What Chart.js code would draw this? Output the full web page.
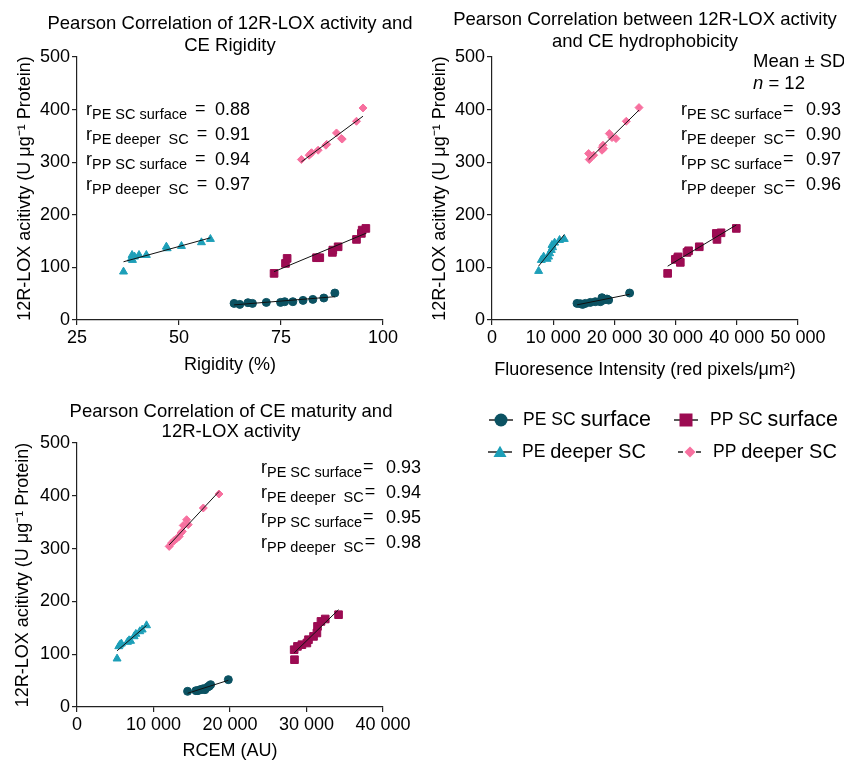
<!DOCTYPE html>
<html>
<head>
<meta charset="utf-8">
<script src="https://cdn.jsdelivr.net/npm/chart.js@4.4.0/dist/chart.umd.min.js"></script>
<style>
  body { margin: 0; background: #fff; width: 844px; height: 762px; overflow: hidden; position: relative; }
  canvas { position: absolute; }
</style>
</head>
<body>
<canvas id="c1" width="420" height="385" style="left:0;top:0"></canvas>
<canvas id="c2" width="424" height="385" style="left:420px;top:0"></canvas>
<canvas id="c3" width="430" height="377" style="left:0;top:385px"></canvas>
<canvas id="leg" width="364" height="80" style="left:480px;top:395px"></canvas>
<script>
// ── Data ───────────────────────────────────────────

const seriesNames = ['PE SC surface', 'PE deeper SC', 'PP SC surface', 'PP deeper SC'];
const rLabels = ['PE SC surface', 'PE deeper  SC', 'PP SC surface', 'PP deeper  SC'];

// panel 1: rigidity (%)
const rigPeSurfX = [63.5, 64.9, 66.9, 68.0, 71.4, 74.9, 75.9, 77.9, 80.4, 82.8, 85.5, 88.2];
const rigPeSurfY = [31.6, 29.7, 32.9, 31.6, 33.5, 33.5, 34.8, 34.8, 37.3, 39.2, 41.8, 51.3];
const rigPeDeepX = [36.4, 38.3, 38.5, 38.6, 39.1, 40.2, 42.0, 46.9, 47.1, 50.6, 55.5, 57.7];
const rigPeDeepY = [91.8, 116.5, 123.4, 113.9, 120.3, 123.4, 123.4, 139.2, 136.1, 140.5, 147.5, 153.8];
const rigPpSurfX = [73.3, 76.1, 76.5, 83.7, 84.5, 87.6, 87.7, 89.0, 93.5, 94.7, 94.9, 95.8];
const rigPpSurfY = [88.6, 107.6, 117.1, 118.4, 118.4, 128.5, 132.9, 139.2, 153.2, 164.6, 170.9, 174.1];
const rigPpDeepX = [80.0, 81.9, 82.3, 82.5, 84.1, 86.0, 86.2, 88.6, 89.8, 90.0, 93.5, 95.1];
const rigPpDeepY = [305.1, 313.3, 316.5, 318.0, 322.8, 332.3, 334.0, 355.6, 345.0, 344.0, 377.8, 403.1];
const rigR = ['0.88', '0.91', '0.94', '0.97'];

// panel 2: fluorescence intensity
const hydPeSurfX = [13890, 14430, 14810, 15250, 16060, 16880, 17700, 17970, 18240, 18790, 19060, 22490];
const hydPeSurfY = [31.6, 31.0, 29.7, 31.6, 33.5, 34.8, 34.8, 42.4, 37.9, 39.9, 37.9, 51.3];
const hydPeDeepX = [7620, 8060, 8440, 9000, 9250, 9420, 9690, 9800, 9900, 10230, 11040, 11810];
const hydPeDeepY = [93.0, 113.9, 120.2, 116.0, 120.2, 126.6, 132.9, 142.4, 138.0, 146.8, 151.9, 153.8];
const hydPpSurfX = [28700, 29950, 30330, 30400, 30770, 31860, 32120, 33870, 36650, 36760, 37420, 39920];
const hydPpSurfY = [88.6, 115.2, 117.1, 120.0, 109.5, 128.5, 131.6, 139.2, 164.6, 153.2, 165.8, 174.1];
const hydPpDeepX = [15790, 15900, 16610, 17970, 18000, 18140, 18240, 19170, 19610, 20260, 21940, 24020];
const hydPpDeepY = [316.5, 305.1, 313.3, 322.8, 328.0, 332.3, 325.9, 354.4, 346.8, 344.9, 377.8, 403.8];
const hydR = ['0.93', '0.90', '0.97', '0.96'];

// panel 3: RCEM (AU)
const rcemPeSurfX = [14455, 15546, 15800, 16071, 16300, 16507, 16725, 17031, 17249, 17300, 17468, 19783];
const rcemPeSurfY = [29.7, 30.9, 31.0, 32.8, 33.0, 34.7, 32.8, 37.2, 39.1, 40.0, 42.3, 51.8];
const rcemPeDeepX = [5240, 5460, 5630, 5800, 6600, 6810, 7000, 7470, 7690, 8210, 8520, 9090];
const rcemPeDeepY = [91.5, 114.8, 118.0, 120.0, 123.1, 126.1, 125.0, 133.7, 138.3, 143.2, 146.4, 154.5];
const rcemPpSurfX = [28430, 28390, 28820, 29400, 30050, 30260, 30920, 31360, 31440, 31890, 32450, 34190];
const rcemPpSurfY = [89.6, 108.5, 114.8, 118.0, 121.2, 127.5, 133.7, 140.2, 152.7, 162.1, 166.7, 174.8];
const rcemPpDeepX = [12050, 12370, 12710, 13020, 13360, 13590, 13760, 13890, 14330, 14540, 16510, 18560];
const rcemPpDeepY = [304.2, 310.6, 315.5, 318.8, 323.1, 329.5, 332.6, 343.9, 354.7, 345.3, 376.9, 403.4];
const rcemR = ['0.93', '0.94', '0.95', '0.98'];

// ── Styles ─────────────────────────────────────────

const FONT = '"Liberation Sans", Arial, sans-serif';
const styles = [
  { color: '#0b5262', pointStyle: 'circle',   radius: 4 },
  { color: '#1d9fb8', pointStyle: 'triangle', radius: 4.6 },
  { color: '#9c0b52', pointStyle: 'rect',     radius: 5.4 },
  { color: '#f7709f', pointStyle: 'rectRot',  radius: 4 },
];

function fitLine(xs, ys) {
  const n = xs.length;
  const mx = xs.reduce((a, b) => a + b, 0) / n;
  const my = ys.reduce((a, b) => a + b, 0) / n;
  let sxy = 0, sxx = 0;
  xs.forEach((x, i) => { sxy += (x - mx) * (ys[i] - my); sxx += (x - mx) * (x - mx); });
  const b = sxy / sxx, a = my - b * mx;
  const x0 = Math.min(...xs), x1 = Math.max(...xs);
  return [{ x: x0, y: a + b * x0 }, { x: x1, y: a + b * x1 }];
}

const thousands = v => String(v).replace(/\B(?=(\d{3})+(?!\d))/g, ' ');

// titles, r values and other notes drawn on the canvas
const notesPlugin = {
  id: 'notes',
  afterDraw(chart, args, o) {
    const ctx = chart.ctx;
    ctx.save();
    ctx.fillStyle = '#000';
    ctx.textBaseline = 'alphabetic';
    ctx.font = '18.5px ' + FONT;
    ctx.textAlign = 'center';
    o.title.forEach((t, i) => ctx.fillText(t, o.titleX, o.titleY[i]));
    ctx.textAlign = 'left';
    o.r.forEach((val, i) => {
      const b = o.rY + i * 25;
      let x = o.rX;
      ctx.font = '18px ' + FONT;
      ctx.fillText('r', x, b);
      x += ctx.measureText('r').width;
      ctx.font = '14.5px ' + FONT;
      ctx.fillText(rLabels[i], x, b + 4);
      x += ctx.measureText(rLabels[i]).width + o.eqGap;
      ctx.font = '18px ' + FONT;
      ctx.fillText('=', x, b - 1);
      ctx.fillText(val, o.valX, b);
    });
    if (o.extra) o.extra(ctx);
    ctx.restore();
  }
};

function makePanel(id, series, cfg) {
  const datasets = [];
  series.forEach(([xs, ys], k) => {
    datasets.push({
      type: 'line', data: fitLine(xs, ys), borderColor: '#111', borderWidth: 1,
      pointRadius: 0, order: 0
    });
    datasets.push({
      type: 'scatter', label: seriesNames[k],
      data: xs.map((x, i) => ({ x, y: ys[i] })),
      pointStyle: styles[k].pointStyle, pointRadius: styles[k].radius,
      backgroundColor: styles[k].color, borderColor: styles[k].color, borderWidth: 1,
      order: 1
    });
  });

  const axisBase = {
    grid: { drawOnChartArea: false, tickLength: 5, color: '#222', lineWidth: 1.2 },
    border: { display: true, color: '#222', width: 1.2 },
  };

  new Chart(document.getElementById(id), {
    type: 'scatter',
    data: { datasets },
    options: {
      responsive: false,
      animation: false,
      layout: { padding: { top: cfg.top, right: cfg.right, left: 0, bottom: 0 } },
      plugins: { legend: { display: false }, tooltip: { enabled: false }, notes: cfg.notes },
      scales: {
        x: {
          ...axisBase,
          type: 'linear', min: cfg.xMin, max: cfg.xMax,
          ticks: { stepSize: cfg.xStep, color: '#000', padding: 2, maxRotation: 0,
                   font: { family: FONT, size: 18 }, callback: v => thousands(v) },
          title: { display: true, text: cfg.xTitle, color: '#000',
                   font: { family: FONT, size: 18 }, padding: { top: 0, bottom: cfg.xtPad } },
          afterFit(s) { s.height = cfg.xh; }
        },
        y: {
          ...axisBase,
          type: 'linear', min: 0, max: 500,
          ticks: { stepSize: 100, color: '#000', padding: 2, font: { family: FONT, size: 18 } },
          title: { display: true, text: '12R-LOX acitivty (U \u03bcg\u207b\u00b9 Protein)', color: '#000',
                   font: { family: FONT, size: 18 }, padding: { top: cfg.ytPad, bottom: 0 } },
          afterFit(s) { s.width = cfg.yw; }
        }
      }
    },
    plugins: [notesPlugin]
  });
}

makePanel('c1',
  [[rigPeSurfX, rigPeSurfY], [rigPeDeepX, rigPeDeepY], [rigPpSurfX, rigPpSurfY], [rigPpDeepX, rigPpDeepY]],
  { top: 57, right: 37, yw: 77, xh: 65, xMin: 25, xMax: 100, xStep: 25,
    xTitle: 'Rigidity (%)', xtPad: 9, ytPad: 14,
    notes: { title: ['Pearson Correlation of 12R-LOX activity and', 'CE Rigidity'],
             titleX: 230, titleY: [29, 51], r: rigR, rX: 86, rY: 115, eqGap: 8, valX: 215 } });

makePanel('c2',
  [[hydPeSurfX, hydPeSurfY], [hydPeDeepX, hydPeDeepY], [hydPpSurfX, hydPpSurfY], [hydPpDeepX, hydPpDeepY]],
  { top: 57, right: 46, yw: 72, xh: 65, xMin: 0, xMax: 50000, xStep: 10000,
    xTitle: 'Fluoresence Intensity (red pixels/\u03bcm\u00b2)', xtPad: 4, ytPad: 9,
    notes: { title: ['Pearson Correlation between 12R-LOX activity', 'and CE hydrophobicity'],
             titleX: 225, titleY: [25, 47], r: hydR, rX: 261, rY: 115, eqGap: 1, valX: 386,
             extra(ctx) {
               ctx.font = '18.5px ' + FONT;
               ctx.fillText('Mean \u00b1 SD', 333, 67);
               ctx.font = 'italic 18.5px ' + FONT;
               ctx.fillText('n', 333, 89);
               const w = ctx.measureText('n').width;
               ctx.font = '18.5px ' + FONT;
               ctx.fillText(' = 12', 333 + w, 89);
             } } });

makePanel('c3',
  [[rcemPeSurfX, rcemPeSurfY], [rcemPeDeepX, rcemPeDeepY], [rcemPpSurfX, rcemPpSurfY], [rcemPpDeepX, rcemPpDeepY]],
  { top: 58, right: 47, yw: 77, xh: 55, xMin: 0, xMax: 40000, xStep: 10000,
    xTitle: 'RCEM (AU)', xtPad: 0, ytPad: 12,
    notes: { title: ['Pearson Correlation of CE maturity and', '12R-LOX activity'],
             titleX: 231, titleY: [32, 52], r: rcemR, rX: 261, rY: 88, eqGap: 1, valX: 386 } });

// ── Legend ─────────────────────────────────────────

(function drawLegend() {
  const ctx = document.getElementById('leg').getContext('2d');
  const items = [
    { k: 0, mx: 21, y: 25, tx: 43, a: 'PE SC ', b: 'surface' },
    { k: 2, mx: 206, y: 25, tx: 230, a: 'PP SC ', b: 'surface' },
    { k: 1, mx: 20, y: 57, tx: 42, a: 'PE ', b: 'deeper SC' },
    { k: 3, mx: 210, y: 57, tx: 233, a: 'PP ', b: 'deeper SC', dash: true },
  ];
  items.forEach(it => {
    const st = styles[it.k];
    ctx.strokeStyle = '#222';
    ctx.lineWidth = 1.5;
    ctx.setLineDash(it.dash ? [5, 4] : []);
    ctx.beginPath();
    ctx.moveTo(it.mx - 12, it.y);
    ctx.lineTo(it.mx + 12, it.y);
    ctx.stroke();
    ctx.setLineDash([]);
    ctx.fillStyle = st.color;
    ctx.beginPath();
    const r = 6.5;
    if (st.pointStyle === 'circle') ctx.arc(it.mx, it.y, r, 0, Math.PI * 2);
    else if (st.pointStyle === 'rect') ctx.rect(it.mx - r, it.y - r, 2 * r, 2 * r);
    else if (st.pointStyle === 'triangle') {
      ctx.moveTo(it.mx - r, it.y + r * 0.75);
      ctx.lineTo(it.mx, it.y - r * 0.95);
      ctx.lineTo(it.mx + r, it.y + r * 0.75);
      ctx.closePath();
    } else {
      ctx.moveTo(it.mx, it.y - 5.5);
      ctx.lineTo(it.mx + 5.5, it.y);
      ctx.lineTo(it.mx, it.y + 5.5);
      ctx.lineTo(it.mx - 5.5, it.y);
      ctx.closePath();
    }
    ctx.fill();
    ctx.fillStyle = '#000';
    ctx.textBaseline = 'middle';
    ctx.font = '17.5px ' + FONT;
    ctx.fillText(it.a, it.tx, it.y);
    const w = ctx.measureText(it.a).width;
    ctx.font = (it.b === 'surface' ? '21.5px ' : '20px ') + FONT;
    ctx.fillText(it.b, it.tx + w, it.y);
  });
})();
</script>
</body>
</html>
